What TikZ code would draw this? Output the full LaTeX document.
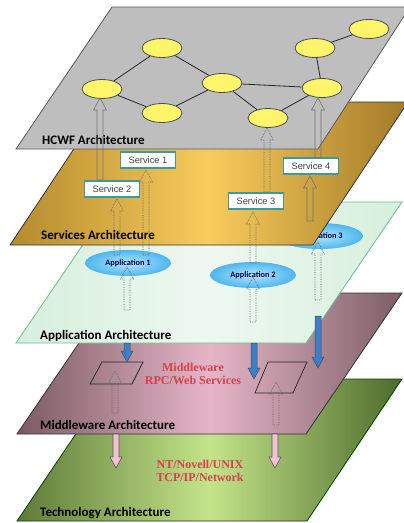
\documentclass[tikz,border=0pt]{standalone}
\usepackage{fontspec}
\setmainfont{Liberation Serif}
\newfontfamily\labfont{Carlito}
\newfontfamily\svcfont{Liberation Sans}
\usetikzlibrary{shapes.geometric}
\definecolor{hcwf}{HTML}{BEBEBE}
\definecolor{goldL}{HTML}{B48A2E}
\definecolor{goldM}{HTML}{F8CC5C}
\definecolor{goldR}{HTML}{A27A28}
\definecolor{appF}{HTML}{D6EFDD}
\definecolor{appM}{HTML}{EEF8F1}
\definecolor{appB}{HTML}{6DBE8C}
\definecolor{midL}{HTML}{7A5A62}
\definecolor{midM}{HTML}{E6B6C8}
\definecolor{midR}{HTML}{7C5E66}
\definecolor{tecL}{HTML}{5E7A38}
\definecolor{tecM}{HTML}{C4E48A}
\definecolor{tecR}{HTML}{4E6A2C}
\definecolor{redtxt}{HTML}{D8404E}
\definecolor{teal}{HTML}{3A9AA2}
\definecolor{ynode}{HTML}{FFF56A}
\definecolor{bluearr}{HTML}{3C7EC8}
\definecolor{pinkarr}{HTML}{F2C2D2}
\definecolor{appIn}{HTML}{B4E6FC}
\definecolor{appOut}{HTML}{4DB6EE}
\newcommand\blkup[4]{\draw[#4] (#1-3,#2) -- (#1-3,#3+12) -- (#1-6.5,#3+12) -- (#1,#3) -- (#1+6.5,#3+12) -- (#1+3,#3+12) -- (#1+3,#2) -- cycle;}
\newcommand\blkdn[4]{\draw[#4] (#1-3,#2) -- (#1-3,#3-11) -- (#1-6,#3-11) -- (#1,#3) -- (#1+6,#3-11) -- (#1+3,#3-11) -- (#1+3,#2) -- cycle;}
\begin{document}
\begin{tikzpicture}[x=1pt,y=-1pt,
  plane/.style={line width=0.8pt},
  planelab/.style={anchor=west,inner sep=0pt,font=\labfont\bfseries\fontsize{13}{14}\selectfont,text=black},
  yn/.style={ellipse,draw=black!70,line width=0.8pt,fill=ynode,minimum width=40pt,minimum height=19pt,inner sep=0pt},
  svc/.style={draw=teal,line width=1.3pt,fill=white,minimum width=55pt,minimum height=16pt,inner sep=0pt,font=\svcfont\fontsize{9.3}{10}\selectfont,text=black!75},
  app/.style={ellipse,inner color=appIn,outer color=appOut,minimum width=86pt,minimum height=26pt,inner sep=0pt,font=\labfont\bfseries\fontsize{8.3}{9}\selectfont,text=blue!30!black},
  redlab/.style={font=\bfseries\fontsize{12}{13.5}\selectfont,text=redtxt,align=center,inner sep=0pt},
  hol/.style={draw=black!55,line width=0.6pt},
  hold/.style={draw=black!60,line width=0.7pt,densely dotted},
  blu/.style={draw=black!70,line width=0.5pt,fill=bluearr},
  pnk/.style={draw=black!65,line width=0.6pt,fill=pinkarr},
  edge/.style={draw=black!85,line width=0.8pt}]
\useasboundingbox (0,0) rectangle (404,523);

% Technology plane
\shade[left color=tecL,right color=tecR,middle color=tecM] (17,521) -- (307,521) -- (402,379) -- (113,379) -- cycle;
\draw[plane,draw=black!75!green] (17,521) -- (307,521) -- (402,379) -- (113,379) -- cycle;
\node[planelab] (techlab) at (40,513) {Technology Architecture};
\node[redlab] (techtxt) at (200,471) {NT/Novell/UNIX\\TCP/IP/Network};

% Middleware plane
\shade[left color=midL,right color=midR,middle color=midM] (17,434) -- (306,434) -- (402,293) -- (113,293) -- cycle;
\draw[plane,draw=black!80] (17,434) -- (306,434) -- (402,293) -- (113,293) -- cycle;
\node[planelab] (midlab) at (40,425) {Middleware Architecture};
\node[redlab] (midtxt) at (193,374) {Middleware\\RPC/Web Services};
\draw[line width=0.7pt,black!85] (102,362) -- (143,362) -- (132,384) -- (90,384) -- cycle;
\draw[line width=0.7pt,black!85] (268,362) -- (307,362) -- (293,393) -- (255,393) -- cycle;
\blkup{115}{413}{371}{hold}
\blkup{276}{425}{382}{hold}
\blkdn{116}{434}{468}{pnk}
\blkdn{275}{434}{468}{pnk}

% Application plane
\shade[left color=appF,right color=appF,middle color=appM] (16,343) -- (306,343) -- (402,202) -- (112,202) -- cycle;
\draw[plane,draw=appB] (16,343) -- (306,343) -- (402,202) -- (112,202) -- cycle;
\node[planelab] (applab) at (40,336) {Application Architecture};
\node[app] (app3) at (320,236) {Application 3};
\node[app] (app1) at (128,263) {Application 1};
\node[app] (app2) at (253,275) {Application 2};
\blkup{318}{300}{242}{hold}
\blkup{127}{310}{267}{hold}
\blkup{253}{322}{277}{hold}
\blkdn{127}{343}{362}{blu}
\blkdn{254}{343}{379}{blu}
\blkdn{318}{316}{368}{blu}

% Services plane
\shade[left color=goldL,right color=goldR,middle color=goldM] (10,245) -- (313,245) -- (408,102) -- (105,102) -- cycle;
\draw[plane,draw=black!80] (10,245) -- (313,245) -- (408,102) -- (105,102) -- cycle;
\node[planelab] (svclab) at (41,235) {Services Architecture};
\node[svc] (s1) at (148,160) {Service 1};
\node[svc] (s2) at (112,189) {Service 2};
\node[svc] (s3) at (256,201) {Service 3};
\node[svc] (s4) at (311,166) {Service 4};
\blkup{146}{255}{170}{hold}
\blkup{117}{255}{199}{hold}
\blkup{253}{263}{212}{hold}
\blkup{310}{221}{176}{hol}

% HCWF plane
\fill[hcwf] (16,149) -- (318,149) -- (410,7) -- (112,7) -- cycle;
\draw[plane,draw=black!65] (16,149) -- (318,149) -- (410,7) -- (112,7) -- cycle;
\node[planelab] (hlab) at (42,140) {HCWF Architecture};
\node[yn] (A) at (102,89) {};
\node[yn] (B) at (162,48) {};
\node[yn] (C) at (162,113) {};
\node[yn] (D) at (222,83) {};
\node[yn] (E) at (268,118) {};
\node[yn] (F) at (322,88) {};
\node[yn] (G) at (315,48) {};
\node[yn] (H) at (369,29) {};
\draw[edge] (A) -- (B);
\draw[edge] (A) -- (C);
\draw[edge] (B) -- (D);
\draw[edge] (C) -- (D);
\draw[edge] (D) -- (E);
\draw[edge] (D) -- (F);
\draw[edge] (E) -- (F);
\draw[edge] (F) -- (G);
\draw[edge] (G) -- (H);
\blkup{100}{180}{98}{hol}
\blkup{267}{192}{128}{hold}
\blkup{318}{158}{98}{hol}
\end{tikzpicture}
\end{document}
